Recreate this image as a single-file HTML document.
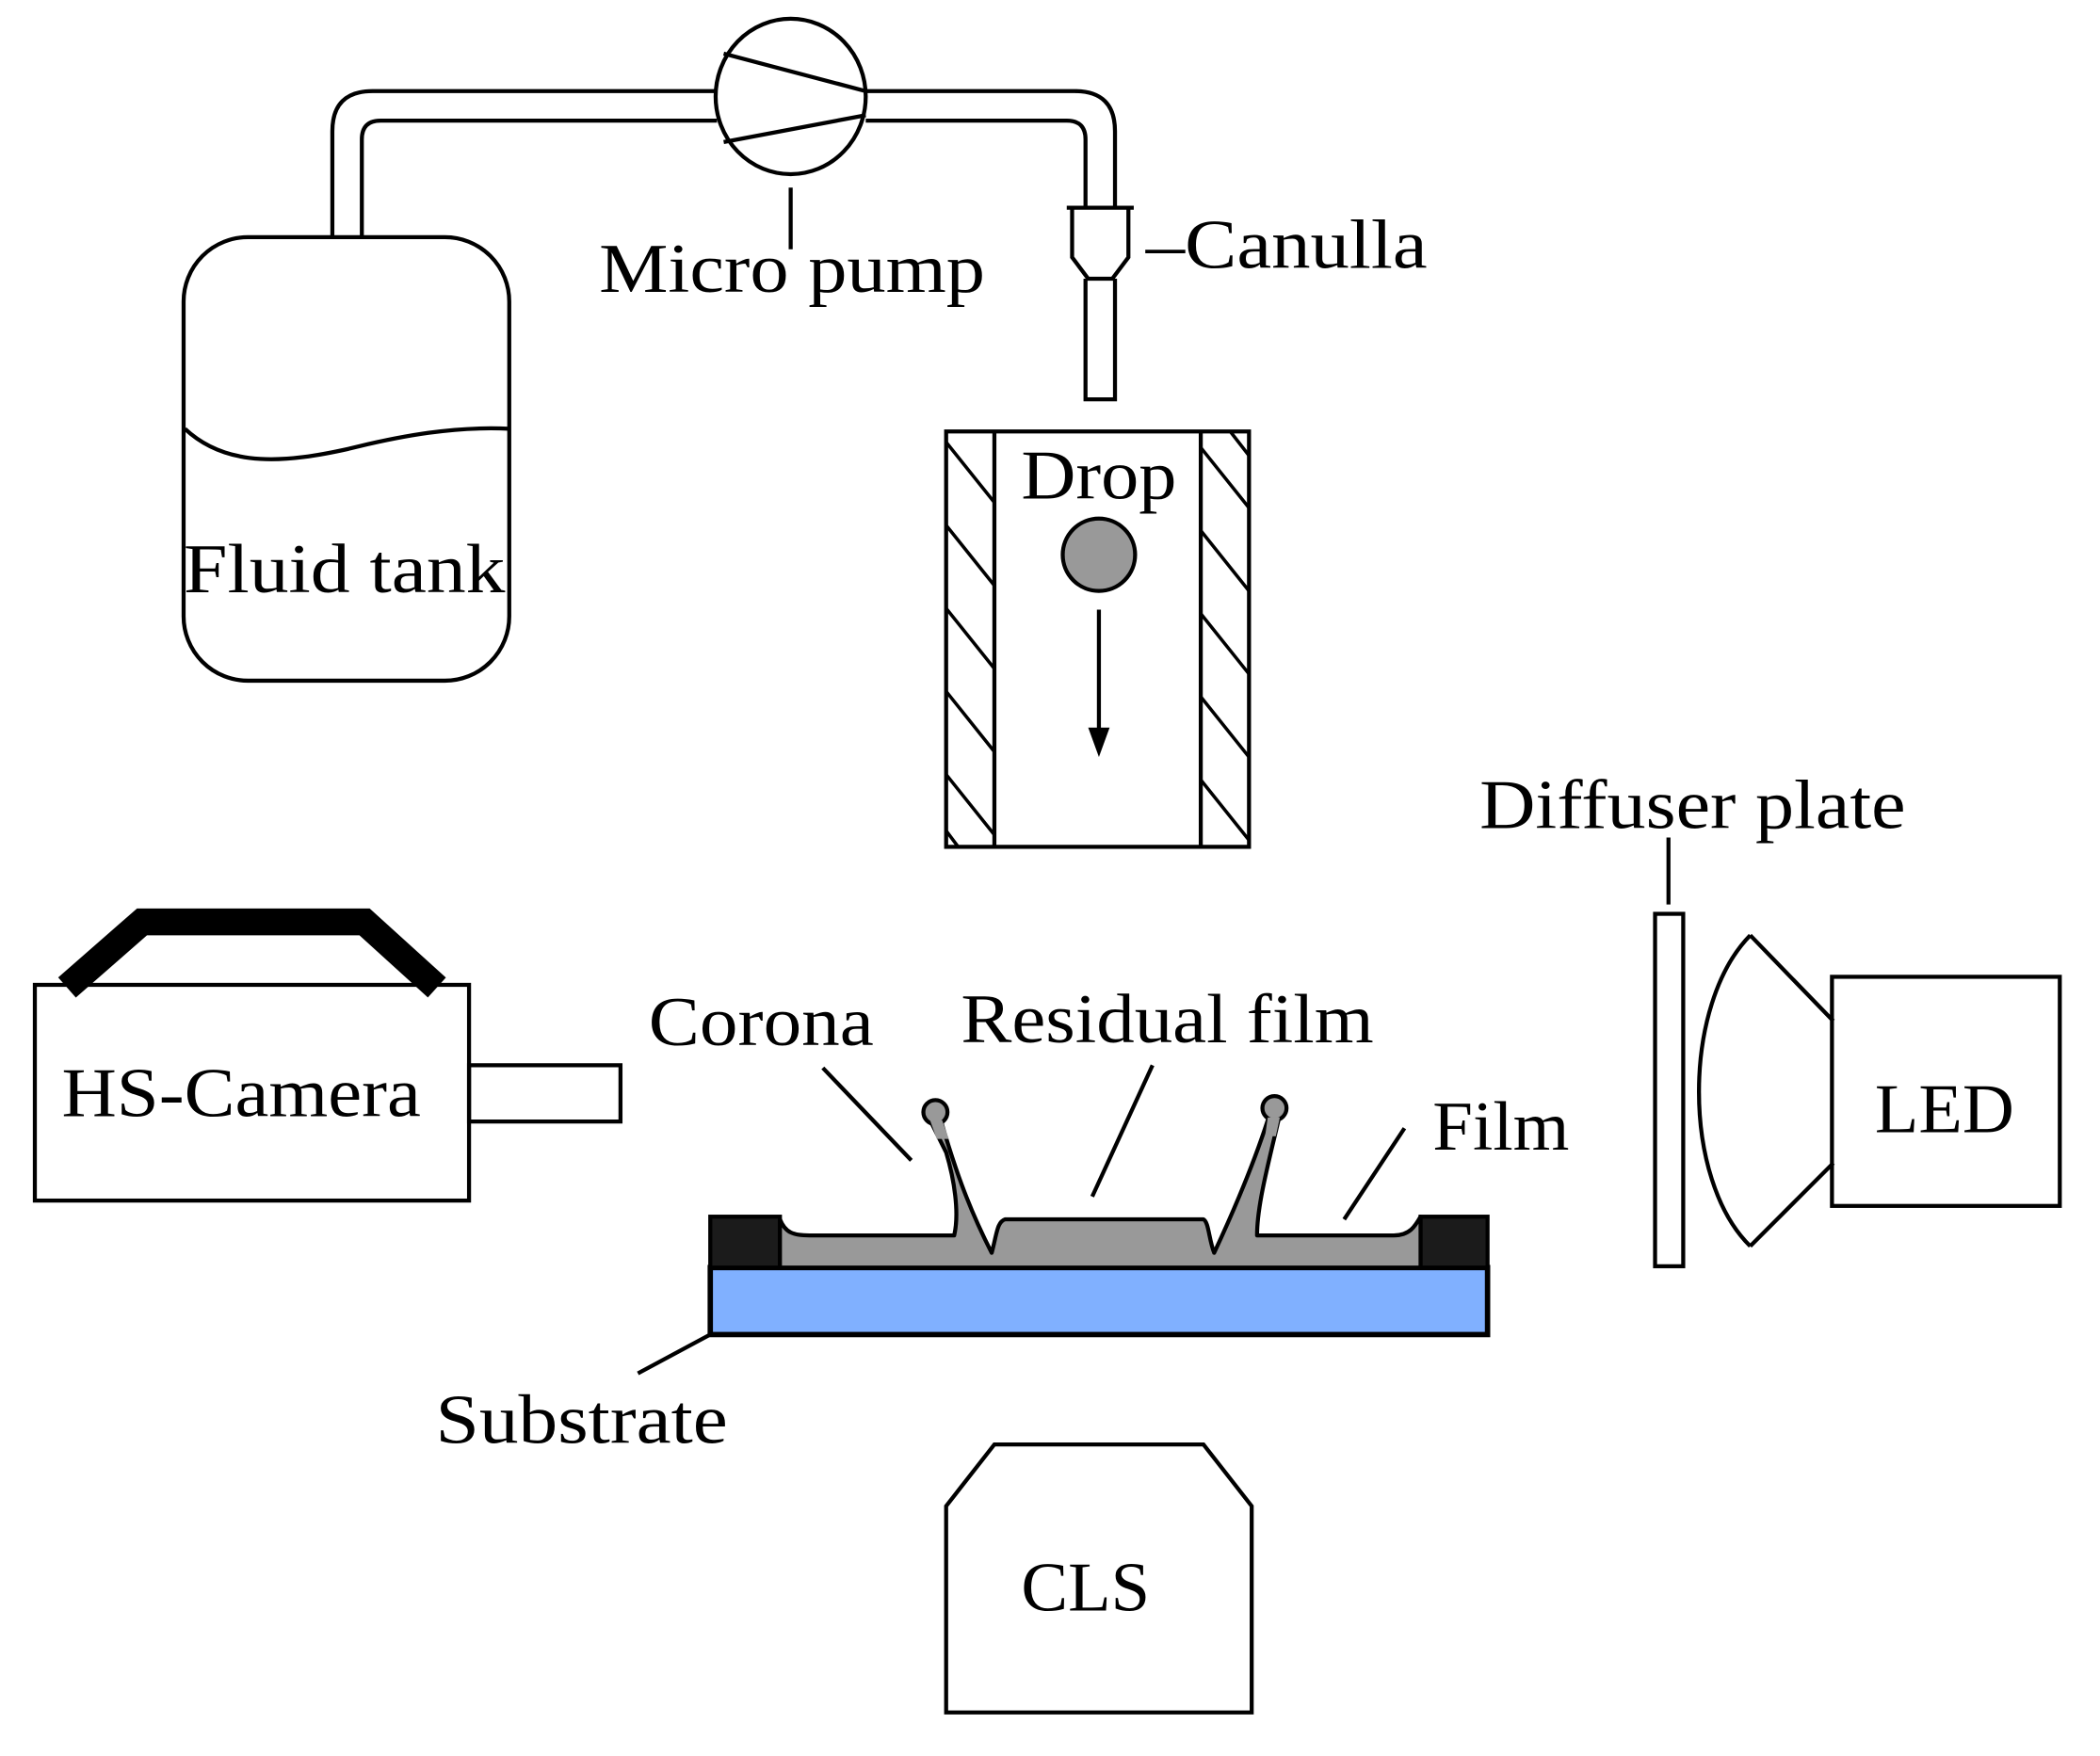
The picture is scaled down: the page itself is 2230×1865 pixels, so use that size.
<!DOCTYPE html>
<html><head><meta charset="utf-8"><style>html,body{margin:0;padding:0;background:#fff}svg{display:block}</style></head>
<body>
<svg width="2230" height="1865" viewBox="0 0 1567 1310" preserveAspectRatio="xMinYMin meet" xmlns="http://www.w3.org/2000/svg" font-family="Liberation Serif, serif" font-size="52">
<rect width="1567" height="1310" fill="#fff"/>
<g fill="none" stroke="#000" stroke-width="3">
<!-- tank -->
<rect x="137" y="177" width="243" height="331" rx="48"/>
<path d="M138,320 C170,350 215,345 260,335 C300,325 340,318 380,320"/>
<!-- tubes -->
<path d="M248,177 L248,98 Q248,68 278,68 L535,68"/>
<path d="M270,177 L270,104 Q270,90 284,90 L535,90"/>
<path d="M646,68 L802,68 Q832,68 832,98 L832,155"/>
<path d="M646,90 L796,90 Q810,90 810,104 L810,155"/>
<ellipse cx="590" cy="72" rx="56" ry="58"/>
<line x1="540" y1="40" x2="646" y2="68"/>
<line x1="540" y1="106" x2="646" y2="86"/>
<line x1="590" y1="140" x2="590" y2="186"/>
<!-- canulla -->
<path d="M796,155 L846,155 M800,155 L800,192 L812,208 L830,208 L842,192 L842,155"/>
<path d="M810,208 L810,298 L832,298 L832,208"/>
<!-- drop column -->
<rect x="706" y="322" width="226" height="310"/>
<line x1="742" y1="322" x2="742" y2="632"/>
<line x1="896" y1="322" x2="896" y2="632"/>
<g stroke-width="2.5">
<path d="M706,330 L742,375 M706,392 L742,437 M706,454 L742,499 M706,516 L742,561 M706,578 L742,623 M706,620 L715,632"/>
<path d="M896,334 L932,379 M896,396 L932,441 M896,458 L932,503 M896,520 L932,565 M896,582 L932,627 M918,322 L932,340"/>
</g>
<line x1="820" y1="455" x2="820" y2="548"/>
<!-- camera -->
<rect x="26" y="735" width="324" height="161"/>
<rect x="350" y="795" width="113" height="42"/>
<polyline points="50,737 106,688 272,688 326,737" stroke-width="20" stroke-linejoin="miter"/>
<!-- CLS -->
<polygon points="706,1278 706,1124 742,1078 898,1078 934,1124 934,1278"/>
<!-- diffuser + LED -->
<rect x="1235" y="682" width="21" height="263"/>
<line x1="1245" y1="625" x2="1245" y2="675"/>
<path d="M1306,698 C1255,750 1255,880 1306,930"/>
<line x1="1306" y1="698" x2="1368" y2="762"/>
<line x1="1306" y1="930" x2="1368" y2="868"/>
<rect x="1367" y="729" width="170" height="171"/>
<!-- leaders -->
<line x1="614" y1="797" x2="680" y2="866"/>
<line x1="860" y1="795" x2="815" y2="893"/>
<line x1="1048" y1="842" x2="1003" y2="910"/>
<line x1="530" y1="996" x2="476" y2="1025"/>
</g>
<polygon points="812,543 828,543 820,565" fill="#000"/>
<circle cx="820" cy="414" r="27" fill="#999" stroke="#000" stroke-width="3"/>
<!-- substrate -->
<rect x="530" y="946" width="580" height="50" fill="#80b0ff" stroke="#000" stroke-width="4"/>
<rect x="530" y="908" width="52" height="38" fill="#1b1b1b" stroke="#000" stroke-width="3"/>
<rect x="1060" y="908" width="50" height="38" fill="#1b1b1b" stroke="#000" stroke-width="3"/>
<path d="M582,946 L582,910 C586,920 592,922 604,922 L712,922 C716,905 712,880 706,860 L694,836 L702,836 C712,870 722,900 740,935 C744,920 744,912 750,910 L898,910 C902,912 902,925 906,935 C920,905 935,870 946,836 L954,836 C946,870 938,900 938,922 L1040,922 C1052,922 1056,915 1060,908 L1060,946 Z" fill="#999" stroke="#000" stroke-width="3" stroke-linejoin="round"/>
<circle cx="698" cy="830" r="9" fill="#999" stroke="#000" stroke-width="3"/>
<circle cx="951" cy="827" r="9" fill="#999" stroke="#000" stroke-width="3"/>
<path d="M694,836 L703,836 L708,850 L699,850 Z" fill="#999"/>
<path d="M946,834 L955,834 L952,848 L944,848 Z" fill="#999"/>
<!-- text -->
<g fill="#000">
<text x="447" y="218" textLength="288" lengthAdjust="spacingAndGlyphs">Micro pump</text>
<text x="855" y="200" textLength="210" lengthAdjust="spacingAndGlyphs">–Canulla</text>
<text x="137" y="442" textLength="240" lengthAdjust="spacingAndGlyphs">Fluid tank</text>
<text x="762" y="372" textLength="116" lengthAdjust="spacingAndGlyphs">Drop</text>
<text x="46" y="833" textLength="268" lengthAdjust="spacingAndGlyphs">HS-Camera</text>
<text x="484" y="780" textLength="168" lengthAdjust="spacingAndGlyphs">Corona</text>
<text x="717" y="778" textLength="308" lengthAdjust="spacingAndGlyphs">Residual film</text>
<text x="1069" y="858" textLength="102" lengthAdjust="spacingAndGlyphs">Film</text>
<text x="325" y="1077" textLength="218" lengthAdjust="spacingAndGlyphs">Substrate</text>
<text x="762" y="1202" textLength="96" lengthAdjust="spacingAndGlyphs">CLS</text>
<text x="1104" y="618" textLength="318" lengthAdjust="spacingAndGlyphs">Diffuser plate</text>
<text x="1399" y="845" textLength="104" lengthAdjust="spacingAndGlyphs">LED</text>
</g>
</svg>
</body></html>
